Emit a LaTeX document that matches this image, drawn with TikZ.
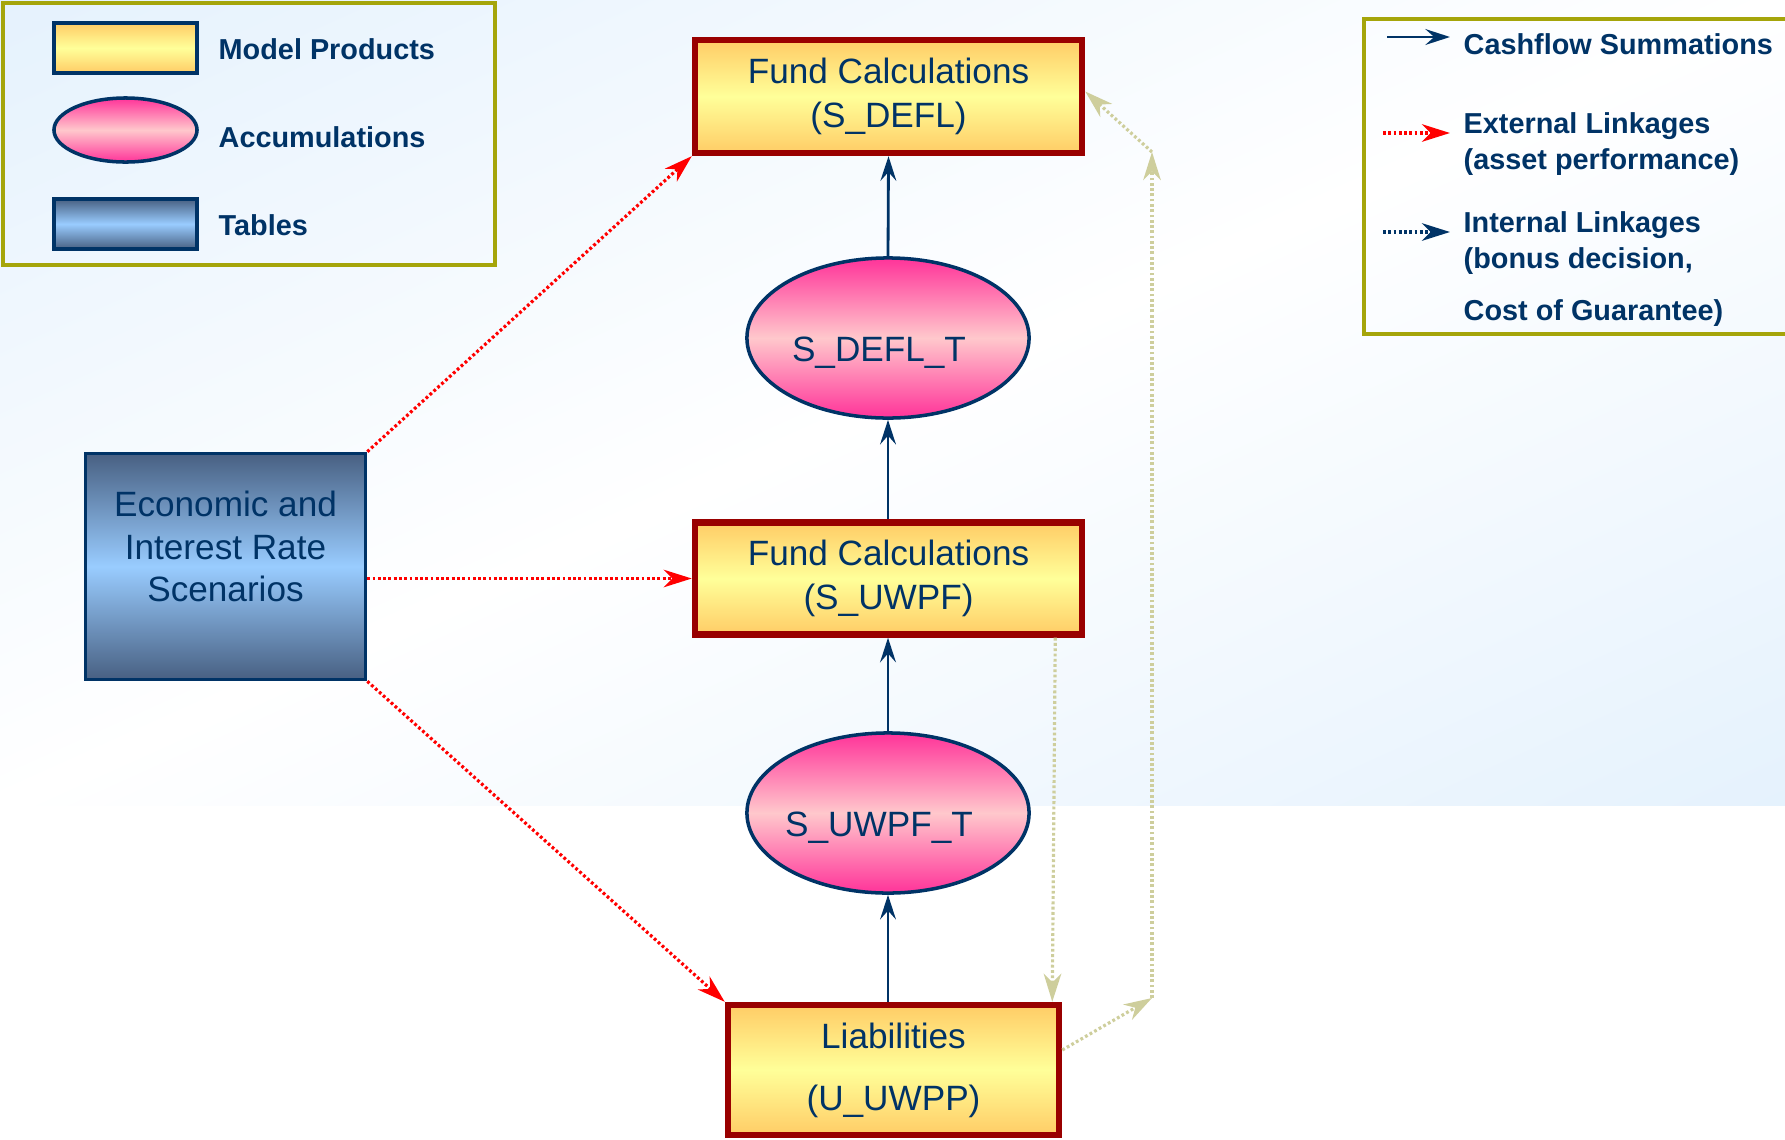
\documentclass[tikz,border=0pt]{standalone}
\usepackage{fontspec}
\setmainfont{Liberation Sans}
\usetikzlibrary{arrows.meta}
\usetikzlibrary{shapes.geometric}

\definecolor{navy}{RGB}{0,51,102}
\definecolor{boxred}{RGB}{153,0,0}
\definecolor{prodorange}{RGB}{255,204,102}
\definecolor{prodyellow}{RGB}{255,255,153}
\definecolor{accpink}{RGB}{255,51,153}
\definecolor{acclight}{RGB}{255,200,204}
\definecolor{tabslate}{RGB}{72,96,130}
\definecolor{tablight}{RGB}{153,204,255}
\definecolor{legolive}{RGB}{165,165,10}
\definecolor{linkolive}{RGB}{206,206,156}
\definecolor{bgblue}{RGB}{216,235,252}

\tikzset{
  model/.style={rectangle, draw=boxred, line width=1.8pt, top color=prodorange, bottom color=prodorange, middle color=prodyellow, text=navy, align=center, inner sep=0pt, font=\fontsize{10}{12.6}\selectfont},
  accum/.style={ellipse, draw=navy, line width=1pt, top color=accpink, bottom color=accpink, middle color=acclight, inner sep=0pt, minimum width=2.82cm, minimum height=1.6cm},
  tablebox/.style={rectangle, draw=navy, line width=1pt, top color=tabslate, bottom color=tabslate, middle color=tablight, inner sep=0pt},
  maintext/.style={text=navy, align=center, font=\fontsize{10}{12}\selectfont},
  legtext/.style={anchor=west, inner sep=0pt, text=navy, align=left, font=\fontsize{8.2}{10.2}\selectfont\bfseries},
  cashflow/.style={draw=navy, line width=0.8pt, -{Stealth[length=7pt,width=4.5pt,inset=2.5pt]}},
  extlink/.style={draw=red, line width=0.9pt, dash pattern=on 0.8pt off 0.7pt, -{Stealth[length=8pt,width=5pt,inset=2.5pt]}},
  intlink/.style={draw=linkolive, line width=0.9pt, dash pattern=on 0.8pt off 0.7pt, -{Stealth[length=8pt,width=5pt,inset=2.5pt]}},
}

\begin{document}
\begin{tikzpicture}[x=0.01cm,y=-0.01cm]
\useasboundingbox (0,0) rectangle (1785,1139);

\begin{scope}
\clip (0,0) rectangle (1785,805);
\begin{scope}[transform canvas={rotate around={24.3:(892.5,402.5)}}]
\shade[top color=bgblue, bottom color=bgblue, middle color=white] (-800,-697.5) rectangle (2585,1502.5);
\end{scope}
\end{scope}

% legend, shapes
\draw[legolive, line width=1.1pt] (3,3) rectangle (495,265);
\node[model, draw=navy, line width=1pt, minimum width=1.43cm, minimum height=0.5cm] at (125.5,48) (legprod) {};
\node[accum, line width=1pt, minimum width=1.43cm, minimum height=0.64cm] at (125.5,130) (legacc) {};
\node[tablebox, minimum width=1.43cm, minimum height=0.5cm] at (125.5,224) (legtab) {};
\node[legtext] at (218,49) (legprodtext) {Model Products};
\node[legtext] at (218,137) (legacctext) {Accumulations};
\node[legtext] at (218,225) (legtabtext) {Tables};

% legend, links
\draw[legolive, line width=1.1pt] (1364,19) rectangle (1800,334);
\coordinate (cfa) at (1387,37);
\coordinate (cfb) at (1450,37);
\coordinate (exa) at (1383,133);
\coordinate (exb) at (1450,133);
\coordinate (ina) at (1383,232);
\coordinate (inb) at (1450,232);
\draw[cashflow] (cfa) -- (cfb);
\draw[extlink] (exa) -- (exb);
\draw[extlink, draw=navy] (ina) -- (inb);
\node[legtext] at (1463,44) (cftext) {Cashflow Summations};
\node[legtext] at (1463,144) (extext) {External Linkages\\(asset performance)};
\node[legtext] at (1463,269) (intext) {Internal Linkages\\(bonus decision,\\[4.5pt]Cost of Guarantee)};

% model
\node[model, minimum width=3.87cm, minimum height=1.13cm] at (888.5,96.5) (sdefl) {Fund Calculations\\(S\_DEFL)};
\node[accum, label={[maintext, xshift=-0.09cm, yshift=-0.15cm]center:S\_DEFL\_T}] at (888,338) (sdeflt) {};
\node[model, minimum width=3.87cm, minimum height=1.12cm] at (888.5,578.5) (suwpf) {Fund Calculations\\(S\_UWPF)};
\node[accum, label={[maintext, xshift=-0.09cm, yshift=-0.15cm]center:S\_UWPF\_T}] at (888,813) (suwpft) {};
\node[model, minimum width=3.31cm, minimum height=1.3cm] at (893.5,1070) (liab) {Liabilities\\[5pt](U\_UWPP)};
\node[tablebox, minimum width=2.8cm, minimum height=2.26cm, label={[maintext, yshift=0.2cm]center:Economic and\\Interest Rate\\Scenarios}] at (225.5,566.5) (econ) {};

\draw[cashflow] (sdeflt.north) -- (sdefl.south);
\draw[cashflow] (suwpf.north -| sdeflt.south) -- (sdeflt.south);
\draw[cashflow] (suwpft.north) -- (suwpf.south -| suwpft.north);
\draw[cashflow] (liab.north -| suwpft.south) -- (suwpft.south);

\draw[extlink] (econ.north east) -- (sdefl.south west);
\draw[extlink] (econ.east |- suwpf.west) -- (suwpf.west);
\draw[extlink] (econ.south east) -- (liab.north west);

\coordinate (bendlow) at (1152,998);
\coordinate (bendhigh) at (1152,152);
\draw[intlink] ([xshift=-0.3cm]suwpf.south east) -- ([xshift=-0.1cm]liab.north east);
\draw[intlink] ([yshift=0.2cm]liab.east) -- (bendlow);
\draw[intlink] (bendlow) -- (bendhigh);
\draw[intlink] (bendhigh) -- ([yshift=0.05cm]sdefl.east);

\end{tikzpicture}
\end{document}
